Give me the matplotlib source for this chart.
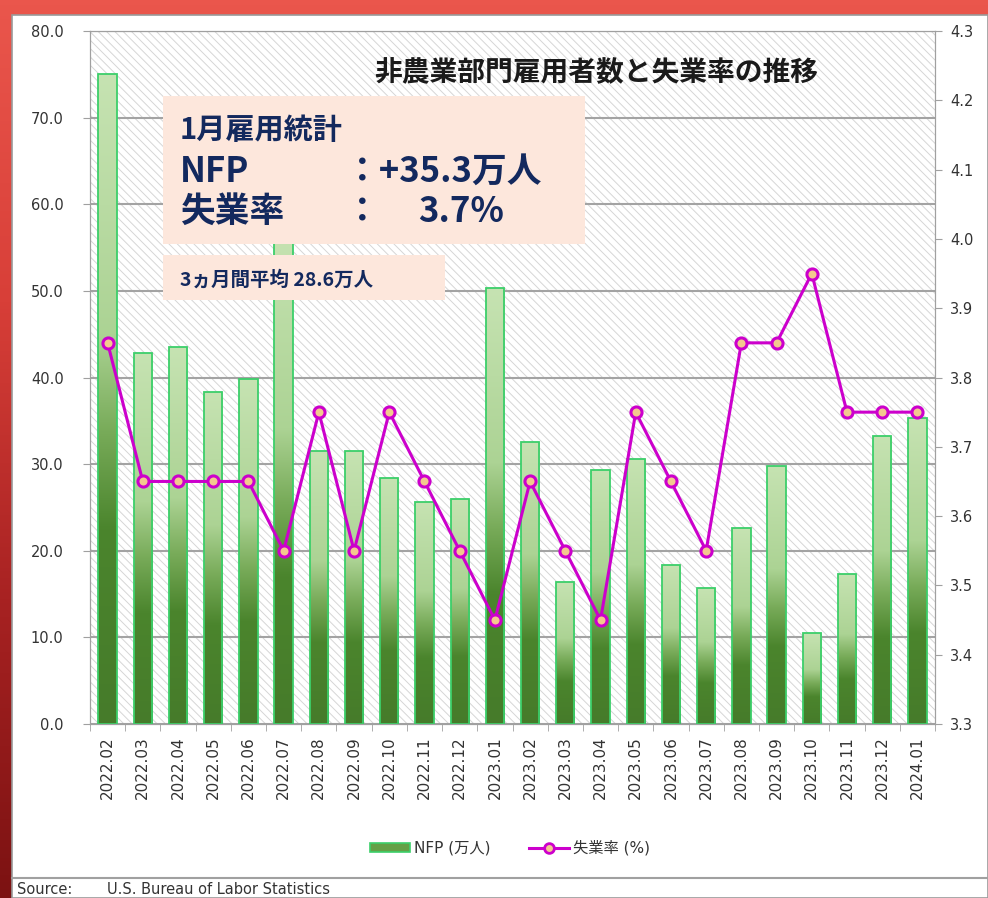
import numpy as np
import matplotlib
matplotlib.use('Agg')
import matplotlib.pyplot as plt
from matplotlib.patches import Rectangle
from matplotlib.colors import LinearSegmentedColormap
from matplotlib.lines import Line2D

plt.rcParams['font.family'] = ['DejaVu Sans', 'Noto Sans CJK JP']
plt.rcParams['hatch.linewidth'] = 0.7

months = ['2022.02', '2022.03', '2022.04', '2022.05', '2022.06', '2022.07',
          '2022.08', '2022.09', '2022.10', '2022.11', '2022.12', '2023.01',
          '2023.02', '2023.03', '2023.04', '2023.05', '2023.06', '2023.07',
          '2023.08', '2023.09', '2023.10', '2023.11', '2023.12', '2024.01']
nfp = [75.0, 42.8, 43.5, 38.3, 39.8, 56.8, 31.5, 31.5, 28.4, 25.6, 26.0, 50.3,
       32.6, 16.4, 29.3, 30.6, 18.4, 15.7, 22.6, 29.8, 10.5, 17.3, 33.3, 35.3]
unemp = [3.85, 3.65, 3.65, 3.65, 3.65, 3.55, 3.75, 3.55, 3.75, 3.65, 3.55, 3.45,
         3.65, 3.55, 3.45, 3.75, 3.65, 3.55, 3.85, 3.85, 3.95, 3.75, 3.75, 3.75]
left_ticks = [0, 10, 20, 30, 40, 50, 60, 70, 80]
right_ticks = [3.3, 3.4, 3.5, 3.6, 3.7, 3.8, 3.9, 4.0, 4.1, 4.2, 4.3]

W, H = 988, 898
def fx(px):
    return px / W
def fy(py):
    return 1 - py / H

fig = plt.figure(figsize=(W / 100, H / 100), dpi=100)

# background (red frame + white panel)
bg = fig.add_axes([0, 0, 1, 1], zorder=-10)
bg.set_axis_off()
red_cmap = LinearSegmentedColormap.from_list('r', ['#ea564c', '#d83f38', '#a82222', '#7c1212'])
bg.imshow(np.linspace(0, 1, 256).reshape(-1, 1), extent=[0, 1, 0, 1], cmap=red_cmap,
          aspect='auto', interpolation='bilinear')
bg.add_patch(Rectangle((fx(12), 0), 1 - fx(12), fy(15), facecolor='white',
                       edgecolor='#9a9a9a', lw=1.2, transform=bg.transAxes))
bg.plot([fx(12), 1], [fy(878), fy(878)], color='#a0a0a0', lw=1.5, transform=bg.transAxes)
bg.set_xlim(0, 1)
bg.set_ylim(0, 1)

# main axes
ax = fig.add_axes([fx(90), fy(724), fx(935) - fx(90), fy(31) - fy(724)])
x = np.arange(len(months))
ax.add_patch(Rectangle((0, 0), 1, 1, transform=ax.transAxes, facecolor='white',
                       edgecolor='#d6d6d6', hatch='\\\\\\\\', lw=0, zorder=0))
ax.set_axisbelow(True)
ax.yaxis.grid(True, color='#a3a3a3', lw=1.5)

green = LinearSegmentedColormap.from_list('g', [(0, '#467b2a'), (0.3, '#4b852d'),
                                                (0.45, '#78ab59'), (0.6, '#acd394'),
                                                (1, '#c6e3b2')])
bw = 0.52
bars = ax.bar(x, nfp, width=bw, facecolor='none', edgecolor='#3ccf6a', lw=1.3, zorder=3)
grad = np.linspace(0, 1, 256).reshape(-1, 1)
for xi, v, b in zip(x, nfp, bars):
    im = ax.imshow(grad, extent=[xi - bw / 2, xi + bw / 2, 0, v], aspect='auto',
                   cmap=green, origin='lower', zorder=2.5, interpolation='bilinear')
    im.set_clip_path(b)

ax.set_xlim(-0.5, len(months) - 0.5)
ax.set_ylim(0, 80)
ax.set_yticks(left_ticks)
ax.set_yticklabels([f'{v:.1f}' for v in left_ticks])
ax.set_xticks(x)
ax.set_xticklabels(months, rotation=90)
ax.set_xticks(np.arange(-0.5, len(months), 1), minor=True)
ax.tick_params(axis='x', which='major', length=0, pad=9, labelsize=11, labelcolor='#333333')
ax.tick_params(axis='x', which='minor', length=5, color='#a0a0a0', direction='out')
ax.tick_params(axis='y', length=5, color='#a0a0a0', direction='out', pad=14,
               labelsize=10.5, labelcolor='#333333')
for s in ax.spines.values():
    s.set_color('#a0a0a0')

ax2 = ax.twinx()
ax2.plot(x, unemp, color='#cc00cc', lw=2.2, marker='o', ms=8, mfc='#f3c98e',
         mec='#cc00cc', mew=2.2, zorder=5)
ax2.set_ylim(3.3, 4.3)
ax2.set_yticks(right_ticks)
ax2.set_yticklabels([f'{v:.1f}' for v in right_ticks])
ax2.tick_params(axis='y', length=5, color='#a0a0a0', direction='out', pad=6,
                labelsize=10.5, labelcolor='#333333')
for s in ax2.spines.values():
    s.set_color('#a0a0a0')
ax2.set_xlim(-0.5, len(months) - 0.5)

# title
fig.text(fx(596), fy(73), '非農業部門雇用者数と失業率の推移', ha='center', va='center',
         fontsize=20, weight='bold', family='Noto Sans CJK JP', color='#1a1a1a', zorder=6)

# annotation boxes
fig.add_artist(Rectangle((fx(163), fy(244)), fx(585) - fx(163), fy(96) - fy(244),
                         transform=fig.transFigure, facecolor='#fde7dc', edgecolor='none', zorder=5))
fig.add_artist(Rectangle((fx(163), fy(300)), fx(445) - fx(163), fy(255) - fy(300),
                         transform=fig.transFigure, facecolor='#fde7dc', edgecolor='none', zorder=5))
navy = '#13295e'
tk = dict(family=['Noto Sans CJK JP', 'DejaVu Sans'], weight='bold', color=navy,
          va='baseline', ha='left', zorder=6)
fig.text(fx(180), fy(139), '1月雇用統計', fontsize=21, **tk)
fig.text(fx(180), fy(182), 'NFP', fontsize=25, **tk)
fig.text(fx(345), fy(182), '：+35.3万人', fontsize=25, **tk)
fig.text(fx(180), fy(222), '失業率', fontsize=25, **tk)
fig.text(fx(345), fy(222), '：', fontsize=25, **tk)
fig.text(fx(418), fy(222), '3.7%', fontsize=25, **tk)
fig.text(fx(180), fy(286), '3ヵ月間平均 28.6万人', fontsize=14, **tk)

# legend
handles = [Rectangle((0, 0), 1, 1, facecolor='#64a046', edgecolor='#3ccf6a', lw=1.2),
           Line2D([], [], color='#cc00cc', lw=2.2, marker='o', ms=7, mfc='#f3c98e',
                  mec='#cc00cc', mew=2)]
leg = fig.legend(handles, ['NFP (万人)', '失業率 (%)'], loc='center',
                 bbox_to_anchor=(fx(510), fy(848)), ncol=2, frameon=False,
                 fontsize=11, handlelength=2.6, handleheight=0.6, columnspacing=2.5,
                 handletextpad=0.3)
for t in leg.get_texts():
    t.set_color('#333333')

# source
fig.text(fx(17), fy(889), 'Source:', va='center', fontsize=10.5, color='#333333')
fig.text(fx(107), fy(889), 'U.S. Bureau of Labor Statistics', va='center', fontsize=10.5,
         color='#333333')

fig.savefig('out.png', dpi=100)
